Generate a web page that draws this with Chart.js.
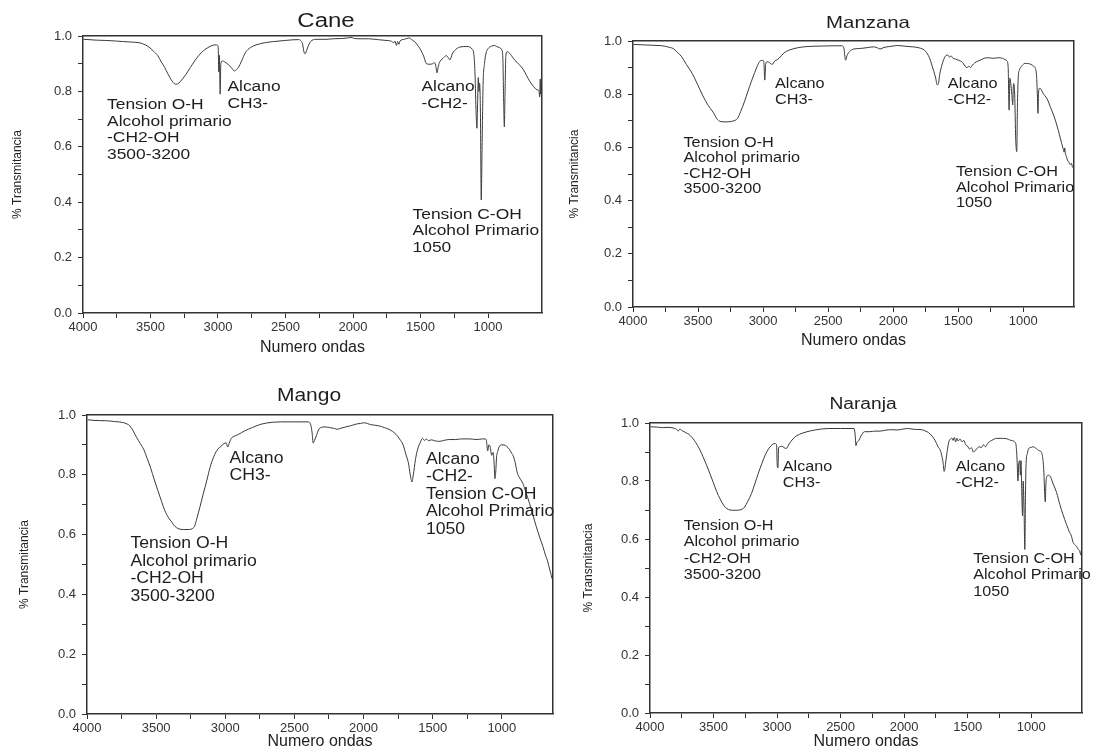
<!DOCTYPE html>
<html lang="es">
<head>
<meta charset="utf-8">
<title>Espectros IR</title>
<script src="https://cdn.jsdelivr.net/npm/chart.js"></script>
<style>
  html, body { margin: 0; padding: 0; background: #fff; }
  body { width: 1095px; height: 751px; position: relative; overflow: hidden; }
  canvas { position: absolute; }
</style>
</head>
<body>
<canvas id="cane"></canvas>
<canvas id="manzana"></canvas>
<canvas id="mango"></canvas>
<canvas id="naranja"></canvas>
<script>
// ---- axis text ----
const xTitle = 'Numero ondas';
const yTitle = '% Transmitancia';
const xTickLabels = ['4000', '3500', '3000', '2500', '2000', '1500', '1000'];
const yTickLabels = ['0.0', '0.2', '0.4', '0.6', '0.8', '1.0'];
const panelTitles = ['Cane', 'Manzana', 'Mango', 'Naranja'];

// ---- band labels ----
const noteOH = ['Tension O-H', 'Alcohol primario', '-CH2-OH', '3500-3200'];
const noteCH3 = ['Alcano', 'CH3-'];
const noteCH2 = ['Alcano', '-CH2-'];
const noteCOH = ['Tension C-OH', 'Alcohol Primario', '1050'];

// ---- spectra: [wavenumber (cm-1), transmittance] ----
const caneSpectrum = [
  [3995,0.988],[3900,0.985],[3836,0.984],[3760,0.982],[3706,0.98],[3640,0.978],[3576,0.975],[3540,0.968],
  [3511,0.96],[3480,0.946],[3446,0.929],[3420,0.906],[3394,0.886],[3372,0.864],[3355,0.849],[3338,0.836],
  [3324,0.828],[3305,0.826],[3290,0.83],[3265,0.844],[3238,0.861],[3205,0.886],[3173,0.91],[3140,0.931],
  [3108,0.947],[3075,0.958],[3043,0.966],[3010,0.968],[2999,0.962],[2994,0.87],[2990,0.93],[2984,0.79],
  [2979,0.9],[2966,0.91],[2952,0.907],[2926,0.898],[2900,0.885],[2879,0.874],[2864,0.878],[2848,0.887],
  [2825,0.91],[2796,0.941],[2760,0.958],[2718,0.968],[2650,0.976],[2587,0.98],[2500,0.984],[2405,0.987],
  [2386,0.983],[2374,0.972],[2362,0.94],[2355,0.936],[2340,0.953],[2326,0.97],[2314,0.98],[2275,0.988],
  [2200,0.988],[2145,0.99],[2080,0.991],[2040,0.993],[2015,0.995],[1990,0.991],[1940,0.99],[1885,0.99],
  [1820,0.987],[1755,0.984],[1720,0.982],[1698,0.976],[1690,0.982],[1678,0.966],[1670,0.98],[1660,0.97],
  [1652,0.982],[1620,0.988],[1586,0.993],[1560,0.985],[1534,0.975],[1515,0.962],[1495,0.947],[1475,0.925],
  [1456,0.9],[1430,0.898],[1410,0.9],[1396,0.904],[1386,0.89],[1378,0.867],[1370,0.886],[1360,0.904],
  [1334,0.919],[1308,0.929],[1295,0.922],[1282,0.914],[1265,0.935],[1248,0.947],[1209,0.96],[1157,0.962],
  [1118,0.953],[1104,0.93],[1096,0.86],[1088,0.72],[1082,0.667],[1077,0.76],[1072,0.85],[1067,0.8],
  [1062,0.83],[1056,0.72],[1050,0.408],[1044,0.6],[1036,0.83],[1026,0.9],[1016,0.935],[998,0.955],
  [975,0.963],[950,0.966],[936,0.962],[915,0.958],[898,0.95],[890,0.92],[884,0.76],[879,0.672],
  [874,0.79],[868,0.925],[860,0.943],[848,0.941],[833,0.934],[819,0.924],[800,0.912],[785,0.905],
  [767,0.896],[740,0.88],[715,0.858],[690,0.836],[663,0.818],[645,0.808],[630,0.805],[622,0.8],
  [617,0.78],[613,0.845],[609,0.79],[605,0.83],[600,0.815]
];

const manzanaSpectrum = [
  [3995,0.987],[3940,0.986],[3900,0.985],[3850,0.984],[3800,0.983],[3760,0.981],[3720,0.976],[3692,0.972],
  [3660,0.958],[3626,0.941],[3590,0.912],[3545,0.878],[3505,0.838],[3465,0.796],[3425,0.76],[3385,0.733],
  [3355,0.708],[3332,0.698],[3300,0.696],[3270,0.696],[3240,0.698],[3215,0.702],[3198,0.708],[3172,0.735],
  [3144,0.771],[3117,0.81],[3091,0.847],[3064,0.882],[3037,0.914],[3015,0.927],[3003,0.927],[2994,0.92],
  [2987,0.853],[2980,0.912],[2968,0.922],[2950,0.918],[2930,0.912],[2912,0.924],[2890,0.93],[2877,0.935],
  [2840,0.955],[2797,0.966],[2730,0.975],[2663,0.979],[2550,0.981],[2450,0.982],[2396,0.982],[2380,0.975],
  [2366,0.928],[2355,0.945],[2336,0.96],[2302,0.97],[2250,0.972],[2200,0.975],[2150,0.978],[2120,0.974],
  [2102,0.97],[2070,0.976],[2030,0.979],[1990,0.982],[1968,0.983],[1900,0.98],[1850,0.978],[1807,0.975],
  [1775,0.97],[1754,0.963],[1730,0.946],[1714,0.928],[1700,0.905],[1687,0.885],[1673,0.86],[1662,0.835],
  [1652,0.84],[1642,0.875],[1628,0.905],[1612,0.93],[1595,0.945],[1580,0.947],[1568,0.94],[1555,0.944],
  [1540,0.935],[1520,0.932],[1500,0.928],[1485,0.925],[1473,0.922],[1460,0.915],[1447,0.905],[1430,0.9],
  [1418,0.906],[1405,0.9],[1390,0.91],[1375,0.917],[1360,0.922],[1330,0.928],[1300,0.935],[1273,0.937],
  [1230,0.935],[1193,0.937],[1160,0.935],[1139,0.93],[1125,0.925],[1116,0.9],[1109,0.74],[1103,0.86],
  [1096,0.84],[1088,0.8],[1081,0.76],[1075,0.84],[1066,0.8],[1058,0.63],[1050,0.584],[1045,0.75],
  [1039,0.86],[1030,0.89],[1021,0.9],[1000,0.912],[988,0.916],[960,0.915],[940,0.912],[920,0.905],
  [908,0.898],[898,0.87],[891,0.79],[887,0.728],[883,0.8],[876,0.822],[865,0.82],[850,0.805],
  [835,0.795],[816,0.782],[790,0.75],[762,0.715],[740,0.68],[722,0.648],[705,0.615],[692,0.592],
  [686,0.582],[681,0.598],[675,0.575],[668,0.565],[660,0.552],[650,0.545],[640,0.535],[630,0.54],
  [620,0.525],[610,0.53]
];

const mangoSpectrum = [
  [3995,0.984],[3950,0.982],[3900,0.981],[3868,0.981],[3800,0.978],[3742,0.975],[3710,0.97],[3691,0.964],
  [3665,0.946],[3640,0.924],[3615,0.905],[3589,0.884],[3565,0.855],[3539,0.822],[3515,0.786],[3488,0.748],
  [3460,0.71],[3437,0.68],[3410,0.656],[3387,0.642],[3365,0.628],[3340,0.62],[3300,0.617],[3260,0.617],
  [3235,0.621],[3222,0.628],[3205,0.655],[3184,0.691],[3160,0.735],[3133,0.782],[3110,0.825],[3083,0.861],
  [3060,0.882],[3032,0.895],[3010,0.904],[2994,0.907],[2982,0.893],[2972,0.905],[2956,0.922],[2930,0.93],
  [2905,0.935],[2860,0.947],[2804,0.958],[2750,0.968],[2703,0.973],[2650,0.976],[2601,0.977],[2500,0.977],
  [2400,0.977],[2382,0.967],[2372,0.94],[2364,0.906],[2356,0.914],[2342,0.93],[2326,0.95],[2310,0.958],
  [2280,0.96],[2246,0.958],[2210,0.955],[2190,0.952],[2170,0.955],[2130,0.96],[2094,0.964],[2050,0.97],
  [2020,0.972],[1993,0.974],[1950,0.968],[1892,0.964],[1850,0.958],[1816,0.952],[1790,0.945],[1765,0.935],
  [1740,0.92],[1714,0.9],[1695,0.87],[1676,0.84],[1662,0.8],[1650,0.776],[1640,0.8],[1625,0.85],
  [1612,0.88],[1600,0.898],[1588,0.91],[1575,0.922],[1560,0.915],[1545,0.92],[1530,0.914],[1510,0.917],
  [1480,0.913],[1450,0.912],[1420,0.915],[1380,0.918],[1334,0.918],[1290,0.92],[1233,0.92],[1180,0.918],
  [1140,0.92],[1120,0.92],[1112,0.915],[1102,0.88],[1094,0.9],[1085,0.895],[1073,0.865],[1063,0.875],
  [1056,0.84],[1050,0.787],[1044,0.81],[1038,0.86],[1030,0.878],[1020,0.893],[1003,0.9],[985,0.9],
  [965,0.895],[945,0.885],[929,0.872],[915,0.86],[903,0.84],[890,0.81],[878,0.795],[865,0.785],
  [848,0.771],[825,0.74],[800,0.705],[775,0.665],[751,0.627],[727,0.592],[703,0.56],[685,0.532],
  [667,0.508],[655,0.485],[646,0.47],[638,0.455],[632,0.45]
];

const naranjaSpectrum = [
  [3995,0.987],[3950,0.986],[3900,0.984],[3858,0.985],[3810,0.982],[3790,0.978],[3778,0.972],[3766,0.979],
  [3745,0.973],[3720,0.967],[3694,0.961],[3665,0.948],[3639,0.932],[3610,0.91],[3584,0.885],[3557,0.857],
  [3530,0.827],[3502,0.795],[3475,0.763],[3448,0.738],[3420,0.716],[3395,0.705],[3370,0.7],[3330,0.699],
  [3297,0.7],[3270,0.704],[3256,0.71],[3230,0.73],[3201,0.757],[3175,0.79],[3147,0.827],[3120,0.86],
  [3092,0.891],[3065,0.912],[3037,0.926],[3015,0.929],[3004,0.926],[2998,0.85],[2993,0.845],[2988,0.915],
  [2980,0.918],[2962,0.92],[2945,0.915],[2928,0.912],[2905,0.928],[2875,0.945],[2846,0.956],[2800,0.965],
  [2764,0.97],[2700,0.976],[2600,0.981],[2500,0.981],[2394,0.981],[2386,0.962],[2379,0.922],[2371,0.934],
  [2356,0.94],[2340,0.955],[2312,0.97],[2270,0.97],[2230,0.972],[2190,0.972],[2150,0.975],[2100,0.977],
  [2050,0.976],[2010,0.979],[1973,0.981],[1920,0.978],[1864,0.977],[1830,0.972],[1809,0.967],[1780,0.955],
  [1754,0.938],[1735,0.92],[1713,0.903],[1700,0.88],[1692,0.86],[1686,0.833],[1680,0.84],[1670,0.875],
  [1660,0.905],[1648,0.935],[1635,0.945],[1625,0.948],[1615,0.94],[1605,0.95],[1595,0.935],[1585,0.948],
  [1575,0.938],[1560,0.945],[1545,0.935],[1530,0.94],[1515,0.925],[1500,0.92],[1485,0.91],[1470,0.915],
  [1455,0.9],[1444,0.903],[1430,0.91],[1410,0.918],[1392,0.915],[1375,0.925],[1360,0.918],[1345,0.928],
  [1330,0.935],[1310,0.94],[1290,0.945],[1274,0.947],[1240,0.947],[1195,0.946],[1160,0.94],[1130,0.935],
  [1118,0.92],[1111,0.872],[1104,0.8],[1098,0.86],[1090,0.87],[1085,0.82],[1080,0.87],[1074,0.76],
  [1068,0.68],[1063,0.8],[1056,0.7],[1050,0.564],[1045,0.75],[1040,0.86],[1030,0.895],[1022,0.91],
  [1000,0.916],[985,0.918],[960,0.912],[940,0.905],[920,0.9],[908,0.875],[900,0.83],[894,0.76],
  [889,0.728],[884,0.79],[877,0.815],[866,0.82],[849,0.815],[827,0.79],[800,0.76],[774,0.718],
  [750,0.685],[722,0.65],[700,0.625],[683,0.61],[670,0.588],[655,0.58],[644,0.575],[630,0.565],
  [618,0.558],[610,0.545],[605,0.56],[600,0.54]
];

// ---- drawing ----
const FONT = '"Liberation Sans", Arial, Helvetica, sans-serif';
const INK = '#333';
const FRAME_WIDTH = 1.5;
const NOTE_STRETCH = 1.13;   // band labels are set slightly widened
const TITLE_STRETCH = 1.2;

Chart.defaults.font.family = FONT;
Chart.defaults.color = INK;

function stretchedText(ctx, text, x, y, sx) {
  ctx.save();
  ctx.translate(x, y);
  ctx.scale(sx, 1);
  ctx.fillText(text, 0, 0);
  ctx.restore();
}

// Closes the plot box (top and right sides), then writes the panel title and band labels.
const panelDecor = {
  id: 'panelDecor',
  afterDraw(chart, _args, o) {
    const { ctx, chartArea: a, scales: { x, y } } = chart;
    const al = v => Math.round(v - FRAME_WIDTH / 2) + FRAME_WIDTH / 2;
    ctx.save();
    ctx.strokeStyle = INK;
    ctx.lineWidth = FRAME_WIDTH;
    ctx.beginPath();
    ctx.moveTo(al(a.left), al(a.top));
    ctx.lineTo(al(a.right), al(a.top));
    ctx.lineTo(al(a.right), al(a.bottom));
    ctx.stroke();

    ctx.fillStyle = '#1e1e1e';
    ctx.textBaseline = 'middle';
    ctx.textAlign = 'center';
    ctx.font = `${o.titleFont}px ${FONT}`;
    stretchedText(ctx, o.title, (a.left + a.right) / 2 + o.titleDx, a.top + o.titleDy, TITLE_STRETCH);

    ctx.textAlign = 'left';
    ctx.font = `${o.noteFont}px ${FONT}`;
    o.notes.forEach(n => {
      const px = x.getPixelForValue(n.at[0]);
      const py = y.getPixelForValue(n.at[1]);
      n.lines.forEach((t, i) => stretchedText(ctx, t, px, py + i * o.noteGap, NOTE_STRETCH));
    });
    ctx.restore();
  }
};

const panels = [
  { canvas: 'cane', title: panelTitles[0], spectrum: caneSpectrum, xMin: 600,
    notes: [ { at: [3822, 0.751], lines: noteOH }, { at: [2930, 0.815], lines: noteCH3 },
             { at: [1493, 0.815], lines: noteCH2 }, { at: [1559, 0.356], lines: noteCOH } ],
    box: { left: 10, top: 0, width: 542, height: 357 }, padTop: 36, yAxisW: 73, xAxisH: 44,
    titleFont: 20, titleDx: 13.5, titleDy: -15, noteFont: 15.4, noteGap: 16.5 },
  { canvas: 'manzana', title: panelTitles[1], spectrum: manzanaSpectrum, xMin: 610,
    notes: [ { at: [3612, 0.618], lines: noteOH }, { at: [2909, 0.838], lines: noteCH3 },
             { at: [1580, 0.838], lines: noteCH2 }, { at: [1518, 0.507], lines: noteCOH } ],
    box: { left: 567, top: 0, width: 517, height: 350 }, padTop: 41, yAxisW: 66, xAxisH: 43,
    titleFont: 17, titleDx: 14.5, titleDy: -17.4, noteFont: 14.4, noteGap: 15.6 },
  { canvas: 'mango', title: panelTitles[2], spectrum: mangoSpectrum, xMin: 630,
    notes: [ { at: [2969, 0.855], lines: noteCH3 }, { at: [3686, 0.569], lines: noteOH },
             { at: [1549, 0.851], lines: noteCH2.concat(noteCOH) } ],
    box: { left: 17, top: 380, width: 546, height: 371 }, padTop: 35, yAxisW: 70, xAxisH: 37,
    titleFont: 17.5, titleDx: -11, titleDy: -18.7, noteFont: 15.6, noteGap: 17.5 },
  { canvas: 'naranja', title: panelTitles[3], spectrum: naranjaSpectrum, xMin: 600,
    notes: [ { at: [2955, 0.849], lines: noteCH3 }, { at: [1593, 0.849], lines: noteCH2 },
             { at: [3735, 0.644], lines: noteOH }, { at: [1456, 0.531], lines: noteCOH } ],
    box: { left: 581, top: 380, width: 511, height: 371 }, padTop: 43, yAxisW: 69, xAxisH: 38,
    titleFont: 16, titleDx: -3, titleDy: -18, noteFont: 14.3, noteGap: 16.3 }
];

panels.forEach(p => {
  const el = document.getElementById(p.canvas);
  el.width = p.box.width;
  el.height = p.box.height;
  Object.assign(el.style, {
    left: p.box.left + 'px', top: p.box.top + 'px',
    width: p.box.width + 'px', height: p.box.height + 'px'
  });

  new Chart(el, {
    type: 'line',
    data: {
      datasets: [{
        data: p.spectrum.map(([x, y]) => ({ x, y })),
        borderColor: '#3a3a3a',
        borderWidth: 1,
        pointRadius: 0,
        cubicInterpolationMode: 'monotone',
        fill: false
      }]
    },
    options: {
      responsive: false,
      animation: false,
      events: [],
      layout: { padding: { top: p.padTop, right: 10, left: 0, bottom: 0 } },
      plugins: {
        legend: { display: false },
        tooltip: { enabled: false },
        title: { display: false },
        panelDecor: { title: p.title, titleFont: p.titleFont, titleDx: p.titleDx, titleDy: p.titleDy,
                      notes: p.notes, noteFont: p.noteFont, noteGap: p.noteGap }
      },
      scales: {
        x: {
          type: 'linear', reverse: true, min: p.xMin, max: 4000,
          afterBuildTicks: s => { s.ticks = s.ticks.filter(t => t.value % 250 === 0); },
          afterFit: s => { s.height = p.xAxisH; },
          ticks: {
            stepSize: 250, maxTicksLimit: 20, autoSkip: false, maxRotation: 0, padding: 2,
            color: INK, font: { size: 13 },
            callback: v => (xTickLabels.includes(String(v)) ? String(v) : '')
          },
          grid: { display: true, drawOnChartArea: false, drawTicks: true, tickLength: 5, tickColor: INK, tickWidth: 1 },
          border: { display: true, color: INK, width: FRAME_WIDTH },
          title: { display: true, text: xTitle, color: '#222', font: { size: 16 }, padding: { top: 0, bottom: 0 } }
        },
        y: {
          type: 'linear', min: 0, max: 1,
          afterFit: s => { s.width = p.yAxisW; },
          ticks: {
            stepSize: 0.1, maxTicksLimit: 20, autoSkip: false, padding: 6,
            color: INK, font: { size: 13 },
            callback: v => { const s = Number(v).toFixed(1); return yTickLabels.includes(s) ? s : ''; }
          },
          grid: { display: true, drawOnChartArea: false, drawTicks: true, tickLength: 5, tickColor: INK, tickWidth: 1 },
          border: { display: true, color: INK, width: FRAME_WIDTH },
          title: { display: true, text: yTitle, color: '#222', font: { size: 12 }, padding: { top: 0, bottom: 0 } }
        }
      }
    },
    plugins: [panelDecor]
  });
});
</script>
</body>
</html>
